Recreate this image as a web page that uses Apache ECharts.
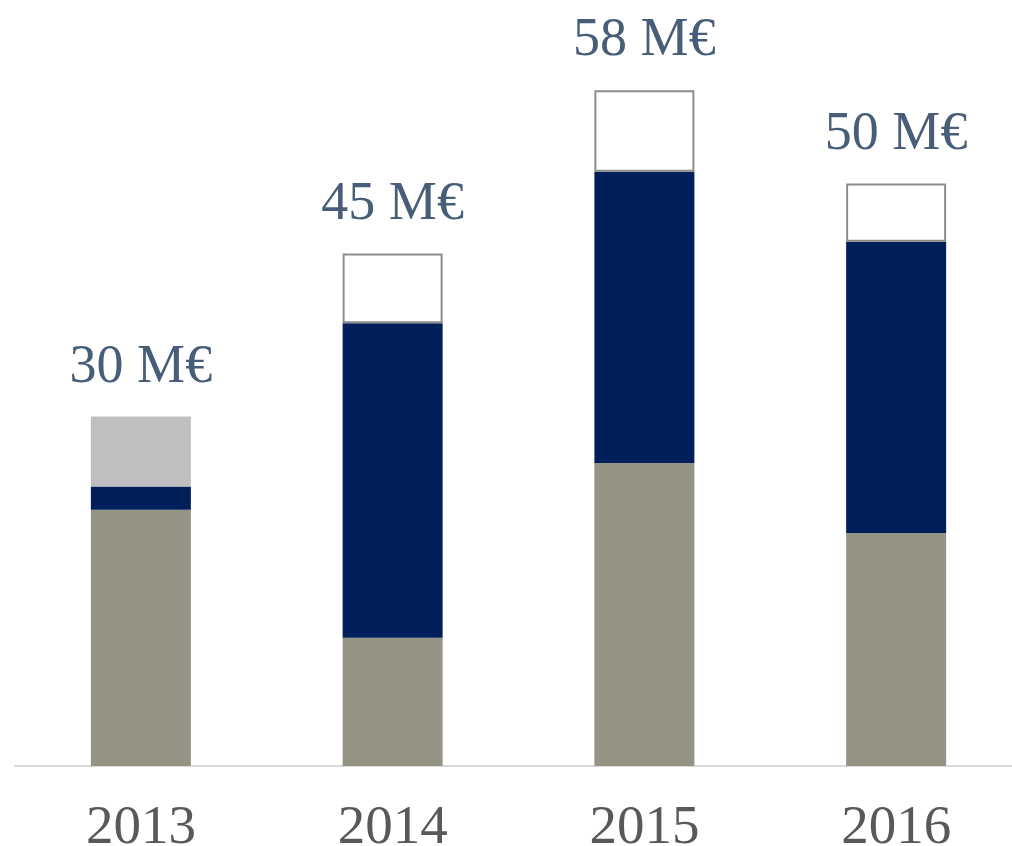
<!DOCTYPE html>
<html>
<head>
<meta charset="utf-8">
<script src="https://cdn.jsdelivr.net/npm/echarts@6/dist/echarts.min.js"></script>
<style>
  html, body { margin: 0; padding: 0; background: #fff; }
  #chart { width: 1012px; height: 846px; }
</style>
</head>
<body>
<div id="chart"></div>
<script>
// years on the x axis
var years = ["2013", "2014", "2015", "2016"];
// stacked parts, M€
var baseVals = [22, 11, 26, 20];
var midVals = [2, 27, 25, 25];
var topVals = [6, 6, 7, 5];
// totals written above each bar
var totalLabels = ["30 M€", "45 M€", "58 M€", "50 M€"];

var FONT = "'Liberation Serif', serif";

var dom = document.getElementById("chart");
var myChart = echarts.init(dom, null, { renderer: "canvas" });

var option = {
  animation: false,
  grid: { left: 15, top: 67, right: -10, bottom: 80, outerBoundsMode: "none", containLabel: false },
  xAxis: {
    type: "category",
    data: years,
    axisLine: { lineStyle: { color: "#d9d9d9", width: 2 } },
    axisTick: { show: false },
    axisLabel: { color: "#595959", fontFamily: FONT, fontSize: 55, margin: 35 }
  },
  yAxis: {
    type: "value",
    min: 0,
    max: 60,
    show: false,
    splitLine: { show: false }
  },
  series: [
    {
      type: "bar",
      stack: "total",
      barWidth: 100,
      itemStyle: { color: "#959383" },
      data: baseVals
    },
    {
      type: "bar",
      stack: "total",
      barWidth: 100,
      itemStyle: { color: "#001f5b" },
      data: midVals
    },
    {
      type: "bar",
      stack: "total",
      barWidth: 100,
      // 2013 top part is a plain light grey block, the others are outlined white
      data: topVals.map(function (v, i) {
        if (i === 0) {
          return { value: v, itemStyle: { color: "#bfbfbf", borderWidth: 0 } };
        }
        return { value: v, itemStyle: { color: "#ffffff", borderColor: "#8c8c8c", borderWidth: 2 } };
      }),
      label: {
        show: true,
        position: "top",
        distance: 22,
        color: "#475d78",
        fontFamily: FONT,
        fontSize: 54,
        formatter: function (p) { return totalLabels[p.dataIndex]; }
      }
    }
  ]
};

myChart.setOption(option);
window.addEventListener("resize", myChart.resize);
</script>
</body>
</html>
